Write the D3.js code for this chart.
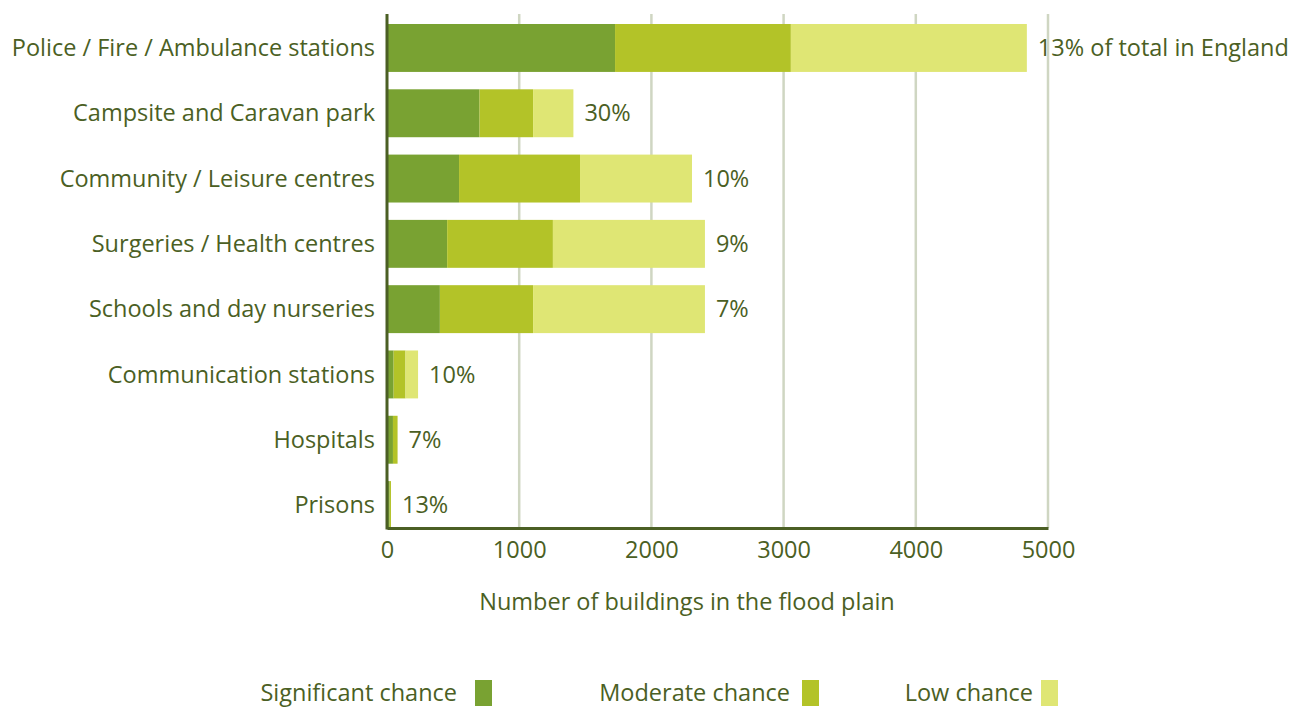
<!DOCTYPE html>
<html>
<head>
<meta charset="utf-8">
<script src="https://cdn.jsdelivr.net/npm/d3@7"></script>
<style>
  html, body { margin: 0; padding: 0; background: #ffffff; }
  svg { display: block; }
  text { font-family: "Open Sans", "Noto Sans", sans-serif; fill: #4b5f24; }
</style>
</head>
<body>
<svg id="chart" width="1305" height="707"></svg>
<script>
// Building types in the flood plain
const categories = [
  "Police / Fire / Ambulance stations",
  "Campsite and Caravan park",
  "Community / Leisure centres",
  "Surgeries / Health centres",
  "Schools and day nurseries",
  "Communication stations",
  "Hospitals",
  "Prisons"
];
// Number of buildings by likelihood of flooding
const significant = [1725, 700, 545, 455, 400, 50, 45, 20];
const moderate    = [1330, 405, 915, 800, 705, 90, 35, 10];
const low         = [1785, 305, 847, 1150, 1300, 95, 0, 0];
// Share of all such buildings in England
const shareLabels = ["13% of total in England", "30%", "10%", "9%", "7%", "10%", "7%", "13%"];
const seriesNames = ["Significant chance", "Moderate chance", "Low chance"];
const xTicks = [0, 1000, 2000, 3000, 4000, 5000];

const colors = ["#79a232", "#b3c328", "#dfe674"];
const textColor = "#4b5f24";
const fontSize = 23.5;

const svg = d3.select("#chart");
const margin = { left: 387, right: 257, top: 14, bottom: 179 };
const width = 1305 - margin.left - margin.right;
const height = 707 - margin.top - margin.bottom;

const g = svg.append("g").attr("transform", `translate(${margin.left},${margin.top})`);

const x = d3.scaleLinear().domain([0, 5000]).range([0, width]);
const y = d3.scaleBand().domain(categories).range([10, height + 1]).paddingInner(0.266).paddingOuter(0);

// vertical gridlines
g.selectAll("line.grid")
  .data(xTicks.slice(1))
  .join("line")
  .attr("class", "grid")
  .attr("x1", d => x(d)).attr("x2", d => x(d))
  .attr("y1", 0).attr("y2", height)
  .attr("stroke", "#cfd6c2").attr("stroke-width", 2.5);

// stacked bars
const rows = categories.map((c, i) => ({
  category: c,
  "Significant chance": significant[i],
  "Moderate chance": moderate[i],
  "Low chance": low[i]
}));
const stack = d3.stack().keys(seriesNames)(rows);

g.selectAll("g.series")
  .data(stack)
  .join("g")
  .attr("class", "series")
  .attr("fill", (d, i) => colors[i])
  .selectAll("rect")
  .data(d => d)
  .join("rect")
  .attr("x", d => x(d[0]))
  .attr("width", d => x(d[1]) - x(d[0]))
  .attr("y", d => y(d.data.category))
  .attr("height", y.bandwidth());

// share labels at the end of each bar
g.selectAll("text.share")
  .data(rows)
  .join("text")
  .attr("class", "share")
  .attr("x", (d, i) => x(significant[i] + moderate[i] + low[i]) + 11)
  .attr("y", d => y(d.category) + y.bandwidth() / 2)
  .attr("dy", "0.35em")
  .attr("font-size", fontSize)
  .text((d, i) => shareLabels[i]);

// category labels
g.selectAll("text.cat")
  .data(categories)
  .join("text")
  .attr("class", "cat")
  .attr("x", -12)
  .attr("y", d => y(d) + y.bandwidth() / 2)
  .attr("dy", "0.35em")
  .attr("text-anchor", "end")
  .attr("font-size", fontSize)
  .text(d => d);

// x axis
const xAxis = g.append("g")
  .attr("transform", `translate(0,${height})`)
  .call(d3.axisBottom(x).tickValues(xTicks).tickSize(0).tickPadding(13).tickFormat(d3.format("d")));
xAxis.select(".domain").attr("stroke", textColor).attr("stroke-width", 3);
xAxis.selectAll("text").attr("font-size", fontSize).attr("fill", textColor)
  .style("font-family", "'Open Sans', 'Noto Sans', sans-serif");

// left axis line
g.append("line")
  .attr("x1", 0).attr("x2", 0).attr("y1", 0).attr("y2", height + 1.5)
  .attr("stroke", textColor).attr("stroke-width", 3);

// axis title
svg.append("text")
  .attr("x", 687)
  .attr("y", 610)
  .attr("text-anchor", "middle")
  .attr("font-size", fontSize)
  .text("Number of buildings in the flood plain");

// legend: swatch to the right of each label
const swatchX = [475, 802, 1041];
const labelEnd = [457, 790, 1033];
const legend = svg.append("g");
seriesNames.forEach((name, i) => {
  legend.append("rect")
    .attr("x", swatchX[i]).attr("y", 680)
    .attr("width", 17).attr("height", 26)
    .attr("fill", colors[i]);
  legend.append("text")
    .attr("x", labelEnd[i]).attr("y", 701)
    .attr("text-anchor", "end")
    .attr("font-size", fontSize)
    .text(name);
});
</script>
</body>
</html>
